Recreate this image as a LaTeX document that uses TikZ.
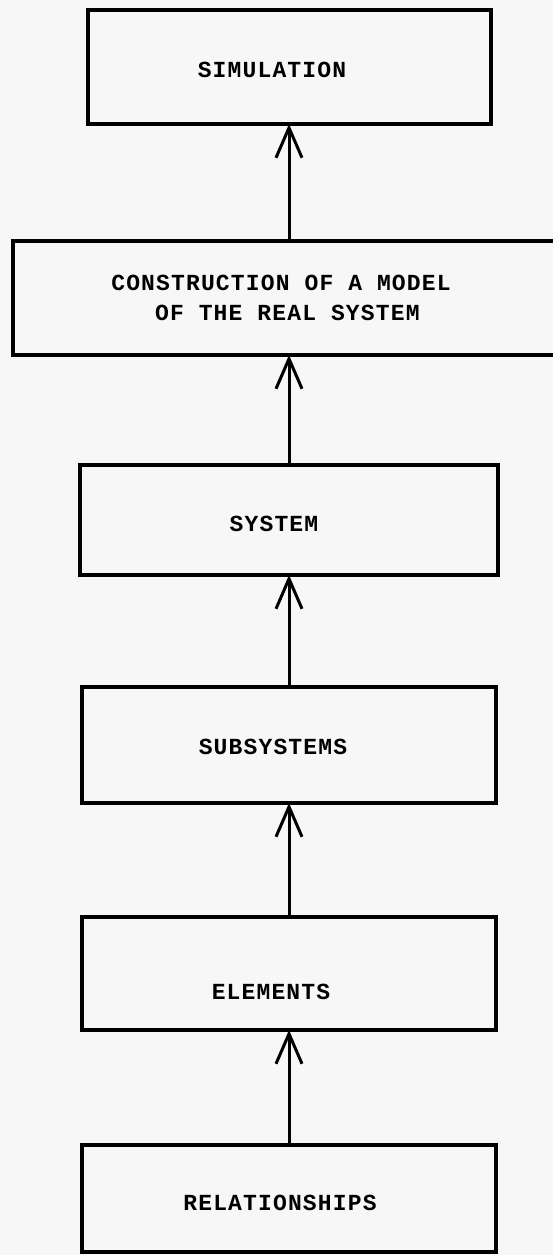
\documentclass[tikz,border=0pt]{standalone}
\usepackage{fontspec}
\newfontfamily\plotterfont[LetterSpace=5]{Liberation Mono}
\usepackage{tikz}
\usetikzlibrary{arrows.meta,positioning}

\begin{document}
\begin{tikzpicture}[
    stage/.style={draw, line width=4pt, outer sep=0pt, minimum width=414pt, inner sep=0pt},
    txt/.style={font=\plotterfont\bfseries\fontsize{23}{30}\selectfont, inner sep=0pt},
    flow/.style={line width=3pt, -{Straight Barb[length=30pt, width=26pt]}},
    node distance=115pt
  ]
    \useasboundingbox[fill=black!3] (0pt,0pt) rectangle (553pt,-1255pt);
    \node[stage, minimum width=403pt, minimum height=114pt,
          label={[txt, xshift=-17pt, yshift=-3pt]center:SIMULATION}] (sim) at (289pt,-67pt) {};
    \node[stage, below=117pt of sim, minimum width=552pt, minimum height=114pt,
          label={[txt, align=left, xshift=-8pt]center:CONSTRUCTION OF A MODEL\\\phantom{XXX}OF THE REAL SYSTEM}] (model) {};
    \node[stage, below=110pt of model, minimum width=418pt, minimum height=110pt,
          label={[txt, xshift=-15pt, yshift=-4pt]center:SYSTEM}] (sys) {};
    \node[stage, below=112pt of sys, minimum height=116pt,
          label={[txt, xshift=-16pt, yshift=-2pt]center:SUBSYSTEMS}] (subsys) {};
    \node[stage, below=114pt of subsys, minimum height=113pt,
          label={[txt, xshift=-18pt, yshift=-18pt]center:ELEMENTS}] (elem) {};
    \node[stage, below=of elem, minimum height=107pt,
          label={[txt, xshift=-9pt, yshift=-4pt]center:RELATIONSHIPS}] (rel) {};
    \draw[flow] (model.north) -- (sim.south);
    \draw[flow] (sys.north) -- (model.south);
    \draw[flow] (subsys.north) -- (sys.south);
    \draw[flow] (elem.north) -- (subsys.south);
    \draw[flow] (rel.north) -- (elem.south);
  \end{tikzpicture}
\end{document}
